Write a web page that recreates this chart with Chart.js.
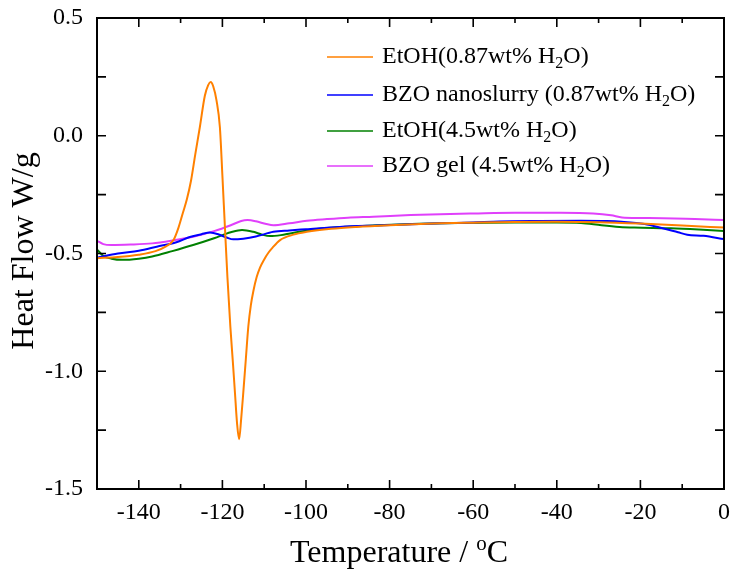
<!DOCTYPE html>
<html><head><meta charset="utf-8">
<script src="https://cdn.jsdelivr.net/npm/chart.js@4/dist/chart.umd.min.js"></script>
<style>html,body{margin:0;padding:0;background:#fff}#wrap{width:733px;height:569px}</style>
</head><body><div id="wrap"><canvas id="c" width="733" height="569"></canvas></div>
<script>
// ---- data ----
const seriesLabels = ['EtOH(0.87wt% H_2O)', 'BZO nanoslurry (0.87wt% H_2O)', 'EtOH(4.5wt% H_2O)', 'BZO gel (4.5wt% H_2O)'];
const seriesColors = ['#FF8000', '#0000FF', '#008000', '#E040FB'];

const etoh087T = [-150,-145,-140,-136,-133.5,-131.7,-130.5,-129.5,-128.5,-127.5,-126.5,-125.4,-124.2,-123.4,-122.8,-122.2,-121.4,-120.6,-120,-119.4,-118.8,-118.1,-117.5,-117,-116.5,-116,-115.5,-115,-114.4,-113.8,-113.2,-112.6,-111.8,-111,-110,-109,-108,-106.2,-103,-99.8,-94,-87.9,-80,-68,-60,-50,-40,-30,-20,-10,0];
const etoh087HF = [-0.52,-0.515,-0.505,-0.49,-0.47,-0.443,-0.39,-0.33,-0.27,-0.19,-0.08,0.036,0.17,0.215,0.228,0.21,0.149,0.036,-0.17,-0.387,-0.6,-0.81,-0.96,-1.09,-1.22,-1.289,-1.2,-1.09,-0.95,-0.81,-0.72,-0.66,-0.6,-0.56,-0.525,-0.497,-0.475,-0.443,-0.42,-0.408,-0.395,-0.387,-0.38,-0.372,-0.369,-0.366,-0.365,-0.367,-0.373,-0.381,-0.39];

const bzo087T = [-150,-145,-140,-135.7,-131,-127.8,-125,-123,-121,-119,-117.4,-115,-112,-107.8,-104,-100,-91.9,-83,-67.9,-60,-53.7,-44,-34.2,-28,-24.5,-19,-14.7,-11,-8.8,-4.9,0];
const bzo087HF = [-0.518,-0.50,-0.488,-0.471,-0.452,-0.43,-0.418,-0.411,-0.418,-0.432,-0.44,-0.437,-0.428,-0.408,-0.402,-0.397,-0.387,-0.381,-0.372,-0.368,-0.364,-0.362,-0.361,-0.362,-0.365,-0.375,-0.393,-0.41,-0.42,-0.425,-0.439];

const etoh45T = [-150,-148.5,-146.5,-144,-140,-136.8,-132,-127,-122,-118,-115.3,-112.6,-110.5,-108.6,-106,-103.8,-99,-95.9,-90,-83,-73,-63.5,-50,-40,-34.2,-29.3,-25,-21.5,-17,-12.7,-6,0];
const etoh45HF = [-0.483,-0.51,-0.522,-0.527,-0.522,-0.513,-0.49,-0.464,-0.435,-0.41,-0.40,-0.408,-0.42,-0.426,-0.422,-0.415,-0.40,-0.393,-0.386,-0.38,-0.374,-0.37,-0.368,-0.368,-0.37,-0.38,-0.387,-0.39,-0.392,-0.393,-0.398,-0.404];

const bzoGelT = [-150,-148.5,-146.6,-142,-136.8,-132,-127,-122,-118,-115.5,-114,-112,-109.5,-107.8,-104,-99.8,-95,-90,-83.9,-75,-67.9,-60,-50,-39,-31.3,-27,-24.4,-20,-14.7,-7,0];
const bzoGelHF = [-0.446,-0.46,-0.464,-0.462,-0.457,-0.445,-0.429,-0.405,-0.38,-0.362,-0.358,-0.363,-0.375,-0.38,-0.372,-0.361,-0.354,-0.348,-0.344,-0.337,-0.333,-0.33,-0.327,-0.327,-0.33,-0.338,-0.347,-0.349,-0.35,-0.354,-0.358];

const xTickValues = [-140,-120,-100,-80,-60,-40,-20,0];
const xMinorValues = [-150,-130,-110,-90,-70,-50,-30,-10];
const yTickValues = [0.5,0.0,-0.5,-1.0,-1.5];
const yMinorValues = [0.25,-0.25,-0.75,-1.25];
const xTitle = ['Temperature / ', 'o', 'C'];
const yTitle = 'Heat Flow W/g';

// ---- build ----
const seriesT = [etoh087T, bzo087T, etoh45T, bzoGelT];
const seriesHF = [etoh087HF, bzo087HF, etoh45HF, bzoGelHF];
const datasets = seriesT.map((ts, i) => ({
  label: seriesLabels[i].replace('_', ''),
  data: ts.map((t, j) => ({x: t, y: seriesHF[i][j]})),
  borderColor: seriesColors[i],
  backgroundColor: seriesColors[i],
  borderWidth: 2,
  pointRadius: 0,
  cubicInterpolationMode: 'monotone',
  fill: false
}));

const FONT = '"Liberation Serif", "Times New Roman", serif';

function drawSubText(ctx, str, x, y, size) {
  let cx = x;
  for (let i = 0; i < str.length; i++) {
    if (str[i] === '_' && i + 1 < str.length) {
      ctx.font = Math.round(size * 0.68) + 'px ' + FONT;
      ctx.fillText(str[i + 1], cx, y + size * 0.3);
      cx += ctx.measureText(str[i + 1]).width;
      i++;
    } else {
      ctx.font = size + 'px ' + FONT;
      ctx.fillText(str[i], cx, y);
      cx += ctx.measureText(str[i]).width;
    }
  }
}

const framePlugin = {
  id: 'frame',
  afterDraw(chart) {
    const ctx = chart.ctx, a = chart.chartArea;
    const xs = chart.scales.x, ys = chart.scales.y;
    ctx.save();
    ctx.strokeStyle = '#000';
    ctx.lineWidth = 2;
    ctx.strokeRect(a.left, a.top, a.right - a.left, a.bottom - a.top);
    ctx.lineWidth = 1.6;
    ctx.beginPath();
    const tick = (v, len, horiz) => {
      if (horiz) {
        const p = xs.getPixelForValue(v);
        ctx.moveTo(p, a.bottom); ctx.lineTo(p, a.bottom - len);
        ctx.moveTo(p, a.top); ctx.lineTo(p, a.top + len);
      } else {
        const p = ys.getPixelForValue(v);
        ctx.moveTo(a.left, p); ctx.lineTo(a.left + len, p);
        ctx.moveTo(a.right, p); ctx.lineTo(a.right - len, p);
      }
    };
    xTickValues.forEach(v => tick(v, 9, true));
    xMinorValues.forEach(v => tick(v, 5, true));
    yTickValues.forEach(v => tick(v, 9, false));
    yMinorValues.forEach(v => tick(v, 9, false));
    ctx.stroke();

    // axis titles
    ctx.fillStyle = '#000';
    ctx.textBaseline = 'alphabetic';
    ctx.textAlign = 'left';
    const TS = 32, SS = 21;
    ctx.font = TS + 'px ' + FONT;
    const w0 = ctx.measureText(xTitle[0]).width;
    ctx.font = SS + 'px ' + FONT;
    const w1 = ctx.measureText(xTitle[1]).width;
    ctx.font = TS + 'px ' + FONT;
    const w2 = ctx.measureText(xTitle[2]).width;
    let sx = 399 - (w0 + w1 + w2) / 2;
    const by = 562;
    ctx.fillText(xTitle[0], sx, by);
    ctx.font = SS + 'px ' + FONT;
    ctx.fillText(xTitle[1], sx + w0, by - 12);
    ctx.font = TS + 'px ' + FONT;
    ctx.fillText(xTitle[2], sx + w0 + w1, by);

    ctx.save();
    ctx.translate(25, 251);
    ctx.rotate(-Math.PI / 2);
    ctx.textAlign = 'center';
    ctx.textBaseline = 'middle';
    ctx.font = TS + 'px ' + FONT;
    ctx.fillText(yTitle, 0, 0);
    ctx.restore();

    // legend
    const rows = [57, 95, 131, 166];
    seriesLabels.forEach((lab, i) => {
      ctx.strokeStyle = seriesColors[i];
      ctx.lineWidth = 1.5;
      ctx.beginPath();
      ctx.moveTo(327, rows[i]); ctx.lineTo(373, rows[i]);
      ctx.stroke();
      ctx.fillStyle = '#000';
      ctx.textAlign = 'left';
      ctx.textBaseline = 'middle';
      drawSubText(ctx, lab, 382, rows[i], 24);
    });
    ctx.restore();
  }
};

const zeroPad = s => { s.paddingTop = 0; s.paddingBottom = 0; s.paddingLeft = 0; s.paddingRight = 0; };

new Chart(document.getElementById('c'), {
  type: 'line',
  data: {datasets},
  options: {
    responsive: false,
    animation: false,
    layout: {padding: {left: 0, right: 9, top: 18, bottom: 0}},
    plugins: {legend: {display: false}, tooltip: {enabled: false}},
    scales: {
      x: {
        type: 'linear', min: -150, max: 0,
        grid: {display: false}, border: {display: false},
        afterBuildTicks: s => { s.ticks = xTickValues.map(v => ({value: v})); },
        afterFit: s => { s.height = 80; zeroPad(s); },
        ticks: {font: {family: FONT, size: 24}, color: '#000', padding: 1, maxRotation: 0, autoSkip: false,
                callback: v => String(v)}
      },
      y: {
        type: 'linear', min: -1.5, max: 0.5,
        grid: {display: false}, border: {display: false},
        afterBuildTicks: s => { s.ticks = yTickValues.map(v => ({value: v})); },
        afterFit: s => { s.width = 97; zeroPad(s); },
        ticks: {font: {family: FONT, size: 24}, color: '#000', padding: 6, autoSkip: false,
                callback: v => Number(v).toFixed(1)}
      }
    }
  },
  plugins: [framePlugin]
});
</script>
</body></html>
